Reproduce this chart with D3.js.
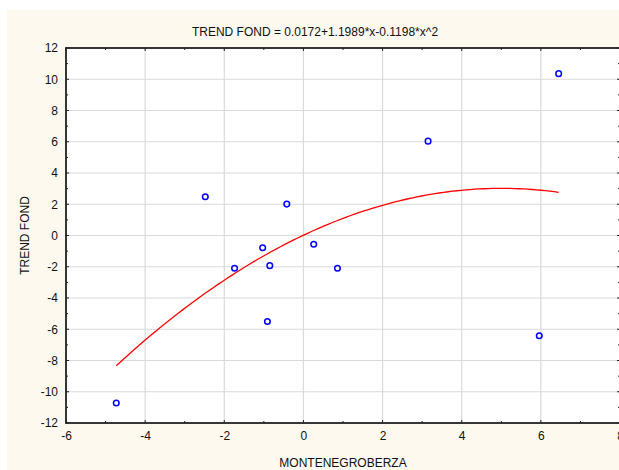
<!DOCTYPE html>
<html>
<head>
<meta charset="utf-8">
<script src="https://cdn.jsdelivr.net/npm/d3@7"></script>
<style>
  body { margin: 0; background: #fff; }
  svg { display: block; font-family: "Liberation Sans", Arial, sans-serif; }
</style>
</head>
<body>
<div id="chart"></div>
<script>
// data
let xVals = [-4.73, -2.48, -1.74, -1.03, -0.85, -0.91, -0.42, 0.26, 0.86, 3.15, 5.96, 6.45]
let yVals = [-10.72, 2.48, -2.1, -0.78, -1.93, -5.5, 2.01, -0.56, -2.1, 6.04, -6.42, 10.36]
// fit coefficients from the title: a + b*x + c*x^2
let fitCoef = [0.0172, 1.1989, -0.1198]
let xTicks = [-6, -4, -2, 0, 2, 4, 6, 8]
let yTicks = [-12, -10, -8, -6, -4, -2, 0, 2, 4, 6, 8, 10, 12]

let width = 619, height = 470
let plotLeft = 66, plotRight = 620, plotTop = 48, plotBottom = 423

let svg = d3.select('#chart').append('svg')
  .attr('width', width)
  .attr('height', height)

// cream page background
svg.append('rect')
  .attr('x', 7).attr('y', 10)
  .attr('width', width).attr('height', height)
  .attr('fill', '#fdf9ee')

let x = d3.scaleLinear().domain([-6, 8]).range([plotLeft, plotRight])
let y = d3.scaleLinear().domain([-12, 12]).range([plotBottom, plotTop])

// plot area
svg.append('rect')
  .attr('x', plotLeft).attr('y', plotTop)
  .attr('width', plotRight - plotLeft).attr('height', plotBottom - plotTop)
  .attr('fill', '#ffffff')

// grid
svg.append('g').selectAll('line')
  .data(xTicks.slice(1, -1))
  .enter().append('line')
    .attr('x1', d => x(d)).attr('x2', d => x(d))
    .attr('y1', plotTop).attr('y2', plotBottom)
    .attr('stroke', '#dadada').attr('stroke-width', 1.2)
svg.append('g').selectAll('line')
  .data(yTicks.slice(1, -1))
  .enter().append('line')
    .attr('y1', d => y(d)).attr('y2', d => y(d))
    .attr('x1', plotLeft).attr('x2', plotRight)
    .attr('stroke', '#dadada').attr('stroke-width', 1.2)

// axes labels (ticks drawn inward below); plain hyphen for minus like the original
let minorX = d3.range(-5, 8, 2)
let minorY = d3.range(-11, 12, 2)

let bottomAxis = svg.append('g').attr('transform', 'translate(0,' + plotBottom + ')')
  .call(d3.axisBottom(x).tickValues(xTicks).tickSize(0).tickPadding(8).tickFormat(d => String(d)))
bottomAxis.select('.domain').remove()

let leftAxis = svg.append('g').attr('transform', 'translate(' + plotLeft + ',0)')
  .call(d3.axisLeft(y).tickValues(yTicks).tickSize(0).tickPadding(8).tickFormat(d => String(d)))
leftAxis.select('.domain').remove()

svg.selectAll('.tick text')
  .attr('font-size', 12)
  .attr('font-family', '"Liberation Sans", Arial, sans-serif')
  .attr('fill', '#111')

let tickG = svg.append('g').attr('stroke', '#222').attr('stroke-width', 1)
xTicks.forEach(function (d) {
  tickG.append('line').attr('x1', x(d)).attr('x2', x(d)).attr('y1', plotBottom).attr('y2', plotBottom - 3)
  tickG.append('line').attr('x1', x(d)).attr('x2', x(d)).attr('y1', plotTop).attr('y2', plotTop + 3)
})
minorX.forEach(function (d) {
  tickG.append('line').attr('x1', x(d)).attr('x2', x(d)).attr('y1', plotBottom).attr('y2', plotBottom - 2)
  tickG.append('line').attr('x1', x(d)).attr('x2', x(d)).attr('y1', plotTop).attr('y2', plotTop + 2)
})
yTicks.forEach(function (d) {
  tickG.append('line').attr('y1', y(d)).attr('y2', y(d)).attr('x1', plotLeft).attr('x2', plotLeft + 3)
  tickG.append('line').attr('y1', y(d)).attr('y2', y(d)).attr('x1', plotRight).attr('x2', plotRight - 3)
})
minorY.forEach(function (d) {
  tickG.append('line').attr('y1', y(d)).attr('y2', y(d)).attr('x1', plotLeft).attr('x2', plotLeft + 2)
  tickG.append('line').attr('y1', y(d)).attr('y2', y(d)).attr('x1', plotRight).attr('x2', plotRight - 2)
})

// frame
svg.append('rect')
  .attr('x', plotLeft).attr('y', plotTop)
  .attr('width', plotRight - plotLeft).attr('height', plotBottom - plotTop)
  .attr('fill', 'none')
  .attr('stroke', '#222').attr('stroke-width', 1.8)

// fitted curve
let xMin = d3.min(xVals), xMax = d3.max(xVals)
let curveData = d3.range(0, 101).map(function (i) {
  let xv = xMin + (xMax - xMin) * i / 100
  return [xv, fitCoef[0] + fitCoef[1] * xv + fitCoef[2] * xv * xv]
})
svg.append('path')
  .datum(curveData)
  .attr('d', d3.line().x(d => x(d[0])).y(d => y(d[1])))
  .attr('fill', 'none')
  .attr('stroke', '#ff0000')
  .attr('stroke-width', 1.3)

// points
svg.append('g').selectAll('circle')
  .data(xVals.map((d, i) => [d, yVals[i]]))
  .enter().append('circle')
    .attr('cx', d => x(d[0]))
    .attr('cy', d => y(d[1]))
    .attr('r', 2.8)
    .attr('fill', 'none')
    .attr('stroke', '#0000ff')
    .attr('stroke-width', 1.5)

// titles
svg.append('text')
  .attr('x', 315).attr('y', 36)
  .attr('text-anchor', 'middle')
  .attr('font-size', 12)
  .attr('fill', '#111')
  .text('TREND FOND = 0.0172+1.1989*x-0.1198*x^2')

svg.append('text')
  .attr('x', 343).attr('y', 467)
  .attr('text-anchor', 'middle')
  .attr('font-size', 12)
  .attr('fill', '#111')
  .text('MONTENEGROBERZA')

svg.append('text')
  .attr('transform', 'translate(29,' + ((plotTop + plotBottom) / 2) + ') rotate(-90)')
  .attr('text-anchor', 'middle')
  .attr('font-size', 12)
  .attr('fill', '#111')
  .text('TREND FOND')
</script>
</body>
</html>
